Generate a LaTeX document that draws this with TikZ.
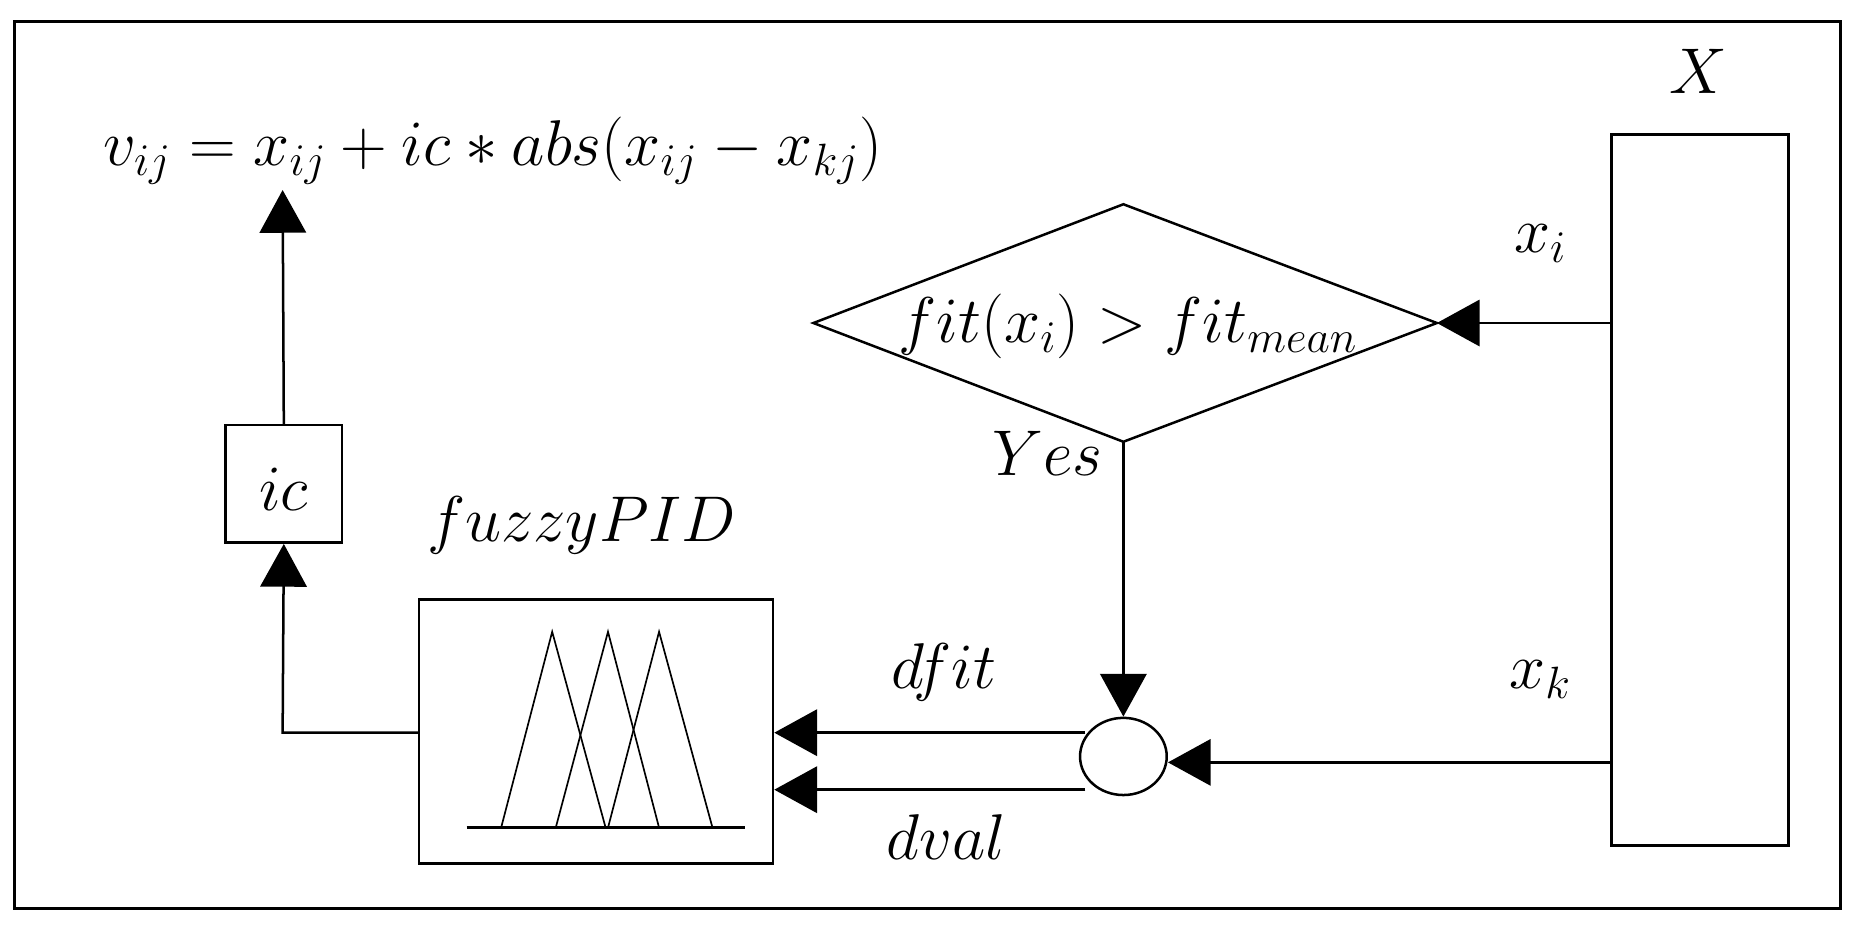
\RequirePackage{fix-cm}
\documentclass[tikz,border=0pt]{standalone}
\usetikzlibrary{arrows.meta,shapes.geometric}
\begin{document}
\begin{tikzpicture}[x=0.02cm,y=-0.02cm,
  ar/.style={-{Triangle[length=0.72cm,width=0.78cm]}},
  ln/.style={line width=1.2pt},
  lbl/.style={font=\fontsize{31}{36}\selectfont, inner sep=0pt}]
\useasboundingbox (0,0) rectangle (1568,782);
\draw[line width=1.5pt] (12,18) rectangle (1550,765);
% X block
\node[draw,ln,minimum width=2.98cm,minimum height=11.98cm,inner sep=0pt] (X) at (1431.5,412.5) {};
\node[lbl] (Xl) at (1430,60) {$X$};
% diamond
\coordinate (dl) at (685,272); \coordinate (dr) at (1210,272);
\coordinate (dt) at (946,172); \coordinate (db) at (946,372);
\draw[ln] (dl) -- (dt) -- (dr) -- (db) -- cycle;
\node[lbl] (dtext) at (950,275) {$fit(x_i) > fit_{mean}$};
\coordinate (xi) at (1357,272);
\draw[ln,ar] (xi) -- (dr);
\node[lbl] (xil) at (1297,205) {$x_i$};
\node[lbl] (yes) at (882,382) {$Yes$};
% circle
\node[draw,ln,ellipse,minimum width=1.46cm,minimum height=1.3cm,inner sep=0pt] (c) at (946,637) {};
\draw[ln,ar] (db) -- (c.north);
\coordinate (xk) at (1357,642);
\draw[ln,ar] (xk) -- (c.east |- xk);
\node[lbl] (xkl) at (1297,572) {$x_k$};
% fuzzy box
\node[draw,ln,minimum width=5.96cm,minimum height=4.44cm,inner sep=0pt] (fz) at (502,616) {};
\node[lbl] (fzl) at (490,442) {$fuzzyPID$};
\coordinate (c1) at (914,617); \coordinate (c2) at (914,665);
\draw[ln,ar] (c1) -- (fz.east |- c1);
\draw[ln,ar] (c2) -- (fz.east |- c2);
\node[lbl] (dfit) at (795,566) {$dfit$};
\node[lbl] (dval) at (797,705) {$dval$};
\draw[line width=1.5pt] (393,697) -- (627,697);
\draw[line width=0.8pt] (422,697) -- (465,532) -- (510,697);
\draw[line width=0.8pt] (468,697) -- (512,532) -- (555,697);
\draw[line width=0.8pt] (512,697) -- (555,532) -- (600,697);
% ic
\node[draw,ln,minimum width=1.96cm,minimum height=1.98cm,inner sep=0pt] (ic) at (239,407.5) {};
\node[lbl] (icl) at (239,412) {$ic$};
\coordinate (bend) at (238,617);
\draw[ln,ar] (fz.west |- bend) -- (bend) -- (ic.south);
\node[lbl] (eq) at (415,127) {$v_{ij} = x_{ij} + ic * abs(x_{ij} - x_{kj})$};
\coordinate (top) at (238,160);
\draw[ln,ar] (ic.north) -- (top);
\end{tikzpicture}
\end{document}
